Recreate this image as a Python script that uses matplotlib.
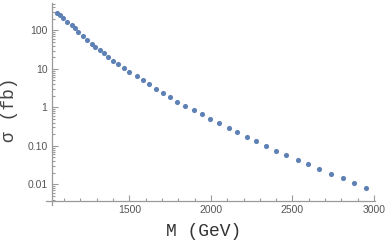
import numpy as np
import matplotlib
matplotlib.use("Agg")
import matplotlib.pyplot as plt
from matplotlib.ticker import FixedLocator, FuncFormatter, LogLocator, NullFormatter

# mass (GeV) and cross section (fb)
mass = [1058, 1075, 1095, 1120, 1146, 1167, 1187, 1217, 1242, 1269, 1289, 1320,
        1344, 1370, 1401, 1431, 1466, 1497, 1544, 1584, 1621, 1662, 1707, 1752,
        1795, 1844, 1894, 1948, 1997, 2047, 2108, 2159, 2219, 2278, 2339, 2400,
        2461, 2532, 2598, 2665, 2737, 2808, 2875, 2948]
sigma = [287, 254, 205, 161, 137, 117, 92, 71, 56, 44.9, 37.5, 30.8,
         25.3, 20.6, 16.2, 13.3, 10.3, 8.4, 6.50, 5.12, 4.03, 2.99, 2.31, 1.82,
         1.40, 1.10, 0.851, 0.658, 0.497, 0.384, 0.290, 0.224, 0.169, 0.131, 0.0989, 0.0746,
         0.0577, 0.0428, 0.0331, 0.0250, 0.0185, 0.0143, 0.0108, 0.00816]

y_ticks = [100, 10, 1, 0.1, 0.01]
y_labels = ["100", "10", "1", "0.10", "0.01"]
x_ticks = [1500, 2000, 2500, 3000]

axis_col = "#9a9a9a"
label_col = "#555555"

fig = plt.figure(figsize=(3.87, 2.41), dpi=100)
ax = fig.add_axes([0.1336, 0.166, 0.835, 0.822])

ax.plot(mass, sigma, "o", color="#5E81B5", ms=3.7, mec="none")

ax.set_yscale("log")
ax.set_xlim(1024, 3005)
ax.set_ylim(0.00368, 520)

for s in ["top", "right"]:
    ax.spines[s].set_visible(False)
for s in ["left", "bottom"]:
    ax.spines[s].set_color(axis_col)
    ax.spines[s].set_linewidth(0.9)
# small overhang where the axes cross
ax.spines["left"].set_bounds(0.0029, 520)
ax.spines["bottom"].set_bounds(987, 3005)

ax.xaxis.set_major_locator(FixedLocator(x_ticks))
ax.xaxis.set_minor_locator(FixedLocator(np.arange(1100, 3001, 100)))
ax.yaxis.set_major_locator(FixedLocator(y_ticks))
ax.yaxis.set_major_formatter(FuncFormatter(lambda v, p: dict(zip(y_ticks, y_labels)).get(v, "")))
ax.yaxis.set_minor_locator(LogLocator(base=10, subs=np.arange(2, 10), numticks=20))
ax.yaxis.set_minor_formatter(NullFormatter())

ax.tick_params(which="both", direction="in", color=axis_col, width=0.8,
               labelsize=7.5, labelcolor=label_col, pad=3)
ax.tick_params(which="major", length=4)
ax.tick_params(which="minor", length=2)
for t in ax.get_xticklabels() + ax.get_yticklabels():
    t.set_family("Liberation Sans")

fig.text(0.525, 0.04, "M (GeV)", family="Liberation Mono", fontsize=13,
         color="#333333", ha="center", va="center")
fig.text(0.025, 0.545, "σ (fb)", family=["Liberation Mono", "DejaVu Sans"], fontsize=13,
         color="#444444", ha="center", va="center", rotation=90)

fig.savefig("out.png", dpi=100)
